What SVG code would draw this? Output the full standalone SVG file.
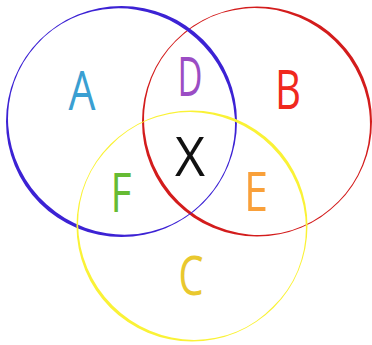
<svg xmlns="http://www.w3.org/2000/svg" width="372" height="345" viewBox="0 0 372 345">
  <style>
    .lbl { font-family: "Open Sans", "Liberation Sans", sans-serif; font-weight: 400; font-size: 54px; text-anchor: middle; }
  </style>
  <rect width="372" height="345" fill="#ffffff"/>
  <g id="circle-b">
    <path fill-rule="evenodd" fill="#d31c1c" d="M 372 121.5 A 115 115 0 1 0 142 121.5 A 115 115 0 1 0 372 121.5 Z M 330.3 208.8 A 114 110.5 50 1 1 183.7 34.2 A 114 110.5 50 1 1 330.3 208.8 Z"/>
  </g>
  <g id="circle-a">
    <path fill-rule="evenodd" fill="#3c22d4" d="M 237 121.5 A 115.5 115.5 0 1 0 6 121.5 A 115.5 115.5 0 1 0 237 121.5 Z M 206.6 198.1 A 114.5 111 42 1 1 36.4 44.9 A 114.5 111 42 1 1 206.6 198.1 Z"/>
  </g>
  <g id="circle-c">
    <path fill-rule="evenodd" fill="#faf236" d="M 307.5 226 A 115.5 115.5 0 1 0 76.5 226 A 115.5 115.5 0 1 0 307.5 226 Z M 272.8 306.8 A 114.3 109.8 45 1 1 111.2 145.2 A 114.3 109.8 45 1 1 272.8 306.8 Z"/>
  </g>
  <g id="label-a"><text class="lbl" x="82" y="110" fill="#3a9fd2" textLength="27" lengthAdjust="spacingAndGlyphs">A</text></g>
  <g id="label-d"><text class="lbl" x="190" y="96" fill="#9b4dc4" textLength="25" lengthAdjust="spacingAndGlyphs">D</text></g>
  <g id="label-b"><text class="lbl" x="288" y="109" fill="#f0281e" textLength="26" lengthAdjust="spacingAndGlyphs">B</text></g>
  <g id="label-x"><text class="lbl" x="190" y="176" fill="#111111" textLength="30" lengthAdjust="spacingAndGlyphs">X</text></g>
  <g id="label-f"><text class="lbl" x="121" y="212" fill="#66bb33" textLength="21" lengthAdjust="spacingAndGlyphs">F</text></g>
  <g id="label-e"><text class="lbl" x="256" y="211" fill="#f9a03a" textLength="24" lengthAdjust="spacingAndGlyphs">E</text></g>
  <g id="label-c"><text class="lbl" x="191" y="295" fill="#e9c82e" textLength="25" lengthAdjust="spacingAndGlyphs">C</text></g>
</svg>
